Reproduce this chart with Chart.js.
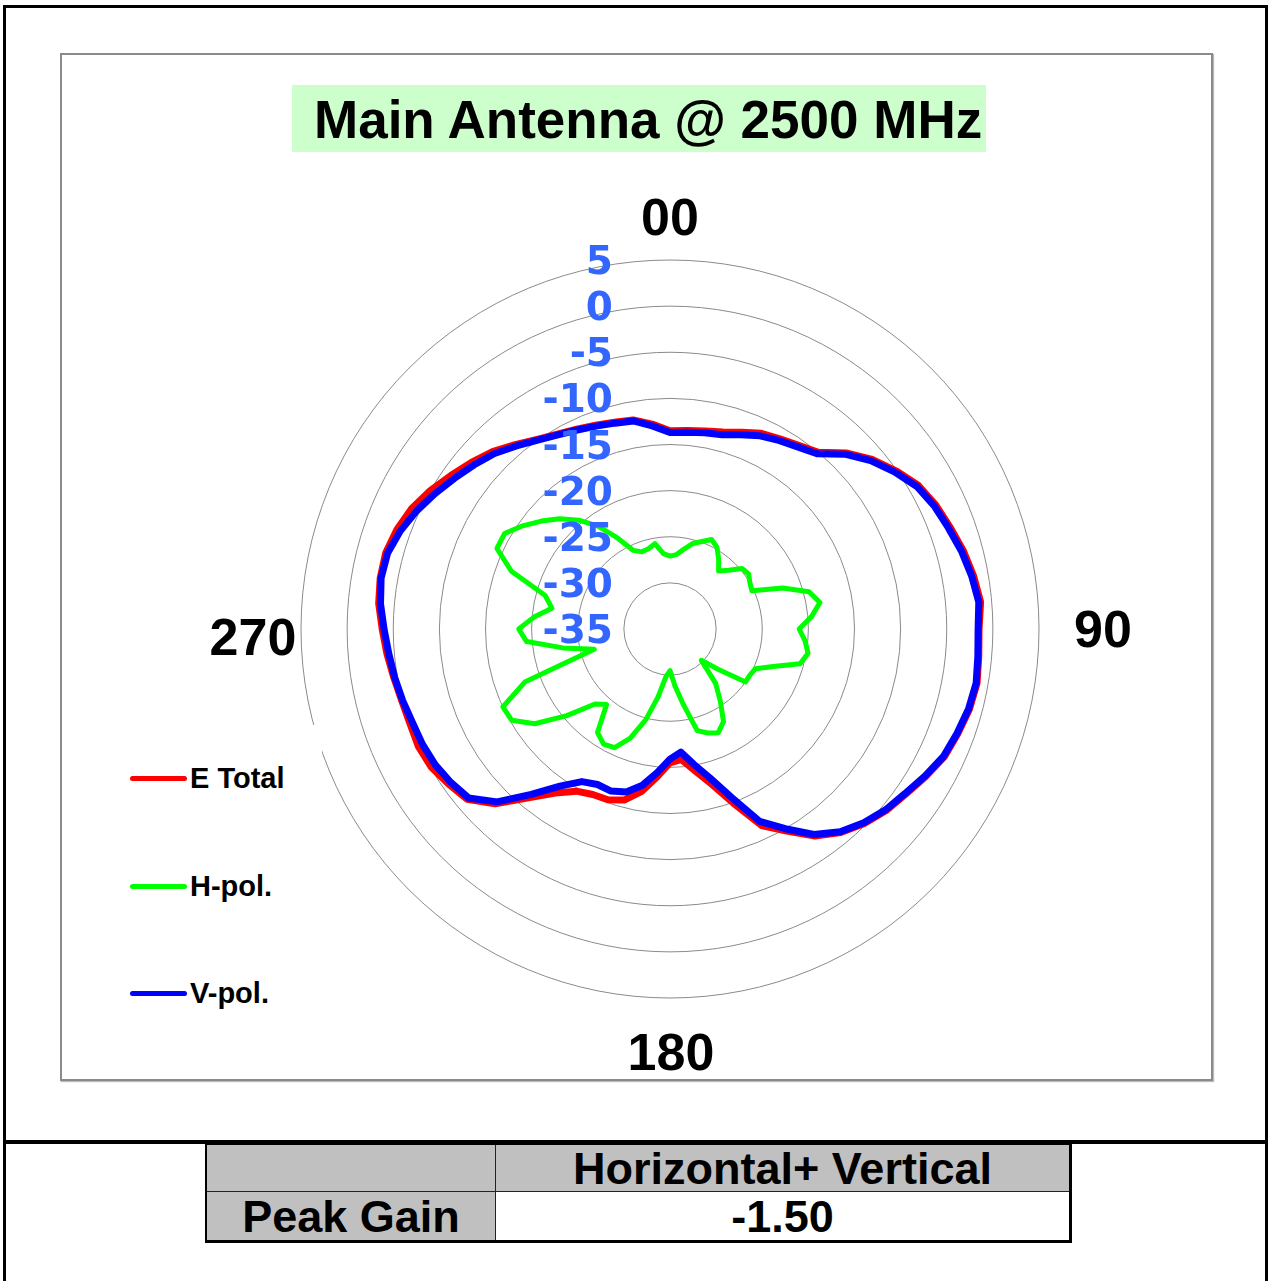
<!DOCTYPE html>
<html><head><meta charset="utf-8">
<script src="https://cdn.jsdelivr.net/npm/chart.js@4/dist/chart.umd.min.js"></script>
<style>
html,body{margin:0;padding:0;background:#fff;}
body{width:1269px;height:1281px;position:relative;overflow:hidden;font-family:"Liberation Sans",Arial,sans-serif;font-weight:bold;color:#000;}
.a{position:absolute;}
.frameTop{left:3px;top:5px;width:1259px;height:1132px;border:3px solid #000;border-bottom:4px solid #000;}
.frameBot{left:3px;top:1141px;width:1259px;height:150px;border-left:3px solid #000;border-right:3px solid #000;}
.plot{left:60px;top:53px;width:1149px;height:1024px;border:2px solid #8a8a8a;box-shadow:1px 1px 1px #bbb;}
.title{left:292px;top:85px;width:694px;height:67px;background:#ccffcc;}
.title span{position:absolute;left:22px;top:8px;font-size:53px;line-height:53px;white-space:nowrap;}
.ang{font-size:52px;line-height:52px;white-space:nowrap;transform:translateX(-50%);}
.legbox{left:120px;top:725px;width:202px;height:300px;background:#fff;}
.lline{left:130px;width:57px;height:5px;border-radius:3px;}
.ltxt{left:190px;font-size:29px;line-height:29px;white-space:nowrap;}
table{position:absolute;left:205px;top:1143px;border-collapse:collapse;border-right:3px solid #000;border-bottom:3px solid #000;border-left:2px solid #000;border-top:2px solid #000;}
td{border:1px solid #222;font-size:45px;line-height:45px;text-align:center;padding:0;font-weight:bold;}
</style></head><body>
<div class="a frameTop"></div>
<div class="a frameBot"></div>
<div class="a plot"></div>
<div class="a title"><span id="ttl"></span></div>
<canvas id="c" class="a" width="778" height="778" style="left:281px;top:240px;"></canvas>
<div class="a legbox"></div>
<div id="angles"></div>
<div id="legend"></div>
<table>
<tr><td style="width:288px;height:46px;background:#c0c0c0;"></td><td id="hdr" style="width:573px;height:46px;background:#c0c0c0;"></td></tr>
<tr><td id="rowlab" style="height:48px;background:#c0c0c0;"></td><td id="rowval" style="height:48px;background:#fff;"></td></tr>
</table>
<script>
// ---- data ----
const titleText = 'Main Antenna @ 2500 MHz';
const angleLabels = ['0','5','10','15','20','25','30','35','40','45','50','55','60','65','70','75','80','85','90','95','100','105','110','115','120','125','130','135','140','145','150','155','160','165','170','175','180','185','190','195','200','205','210','215','220','225','230','235','240','245','250','255','260','265','270','275','280','285','290','295','300','305','310','315','320','325','330','335','340','345','350','355'];
const eTotal = [-13.5,-13.4,-13.2,-12.9,-12.3,-11.6,-11.2,-10.7,-10.0,-8.0,
  -6.4,-5.1,-3.9,-3.2,-2.7,-2.1,-1.6,-1.2,-1.5,-1.4,
  -1.2,-1.4,-1.8,-2.2,-3.0,-3.8,-4.4,-5.2,-6.2,-7.6,
  -9.7,-11.5,-14.9,-17.6,-19.4,-20.8,-20.5,-18.9,-17.1,-15.8,
  -15.3,-15.2,-14.7,-13.3,-11.1,-8.2,-6.3,-5.7,-5.1,-4.9,
  -5.0,-4.9,-4.6,-4.2,-3.8,-3.3,-3.1,-3.1,-3.5,-4.1,
  -5.0,-6.0,-6.9,-7.8,-8.9,-9.9,-10.6,-11.1,-11.5,-11.8,
  -12.0,-12.7];
const hPol = [-27.1,-26.9,-26.2,-25.4,-24.9,-24.3,-24.8,-25.8,-26.8,-26.0,
  -24.8,-24.6,-25.0,-25.2,-22.0,-19.4,-18.5,-19.6,-21.0,-20.3,
  -19.8,-20.4,-23.1,-24.8,-25.0,-25.0,-28.2,-30.2,-27.3,-25.5,
  -23.4,-22.6,-23.0,-23.6,-26.7,-28.8,-30.5,-29.8,-27.5,-24.8,
  -22.4,-20.8,-20.6,-21.3,-24.3,-23.5,-20.4,-17.1,-15.2,-15.0,
  -18.3,-26.5,-23.2,-19.4,-18.6,-20.2,-22.0,-21.0,-16.7,-14.3,
  -14.3,-15.5,-16.8,-18.1,-19.6,-21.4,-23.6,-25.6,-26.1,-26.0,
  -25.6,-26.8];
const vPol = [-13.7,-13.6,-13.4,-13.2,-12.6,-11.9,-11.4,-10.9,-10.2,-8.2,
  -6.6,-5.3,-4.1,-3.4,-2.9,-2.3,-1.8,-1.4,-1.6,-1.5,
  -1.3,-1.5,-1.9,-2.3,-3.1,-3.9,-4.5,-5.3,-6.3,-7.8,
  -10.0,-12.0,-15.6,-18.3,-20.1,-21.6,-20.9,-19.4,-17.8,-16.7,
  -16.3,-16.4,-15.9,-14.2,-11.6,-8.5,-6.5,-6.0,-5.6,-5.4,
  -5.3,-5.0,-4.7,-4.4,-4.0,-3.5,-3.2,-3.3,-3.9,-4.7,
  -5.6,-6.5,-7.3,-8.1,-9.1,-10.0,-10.7,-11.2,-11.6,-11.9,
  -12.1,-12.9];
const radialTicks = [5,0,-5,-10,-15,-20,-25,-30,-35];
const compassLabels = ['00','90','180','270'];
const seriesNames = ['E Total','H-pol.','V-pol.'];
const seriesColors = ['#ff0000','#00ff00','#0000ff'];
const tableHeader = 'Horizontal+ Vertical';
const tableRowLabel = 'Peak Gain';
const tableRowValue = '-1.50';

// ---- static text ----
document.getElementById('ttl').textContent = titleText;
document.getElementById('hdr').textContent = tableHeader;
document.getElementById('rowlab').textContent = tableRowLabel;
document.getElementById('rowval').textContent = tableRowValue;

const angPos = [[670,191],[1103,603],[671,1026],[253,611]];
const angBox = document.getElementById('angles');
compassLabels.forEach((t,i)=>{
  const d=document.createElement('div'); d.className='a ang'; d.textContent=t;
  d.style.left=angPos[i][0]+'px'; d.style.top=angPos[i][1]+'px'; angBox.appendChild(d);
});
const legY=[778,886,993];
const legBox=document.getElementById('legend');
seriesNames.forEach((n,i)=>{
  const l=document.createElement('div'); l.className='a lline'; l.style.background=seriesColors[i];
  l.style.top=(legY[i]-2)+'px'; legBox.appendChild(l);
  const t=document.createElement('div'); t.className='a ltxt'; t.textContent=n;
  t.style.top=(legY[i]-14)+'px'; legBox.appendChild(t);
});

// ---- chart ----
const tickLabelPlugin = {
  id:'tickLabels',
  afterDatasetsDraw(chart){
    const s=chart.scales.r, ctx=chart.ctx;
    ctx.save();
    ctx.font='bold 39px "DejaVu Sans"';
    ctx.fillStyle='#3366ff';
    ctx.textAlign='right'; ctx.textBaseline='alphabetic';
    radialTicks.forEach(v=>{
      const d=s.getDistanceFromCenterForValue(v);
      ctx.fillText(String(v), s.xCenter-57, s.yCenter-d+14);
    });
    ctx.restore();
  }
};
new Chart(document.getElementById('c'),{
  type:'radar',
  data:{labels:angleLabels,datasets:[
    {label:seriesNames[0],data:eTotal,borderColor:seriesColors[0],backgroundColor:'transparent',borderWidth:7,order:2},
    {label:seriesNames[1],data:hPol,borderColor:seriesColors[1],backgroundColor:'transparent',borderWidth:5,order:1},
    {label:seriesNames[2],data:vPol,borderColor:seriesColors[2],backgroundColor:'transparent',borderWidth:7,order:0}
  ]},
  options:{
    responsive:false,animation:false,
    layout:{padding:20},
    elements:{point:{radius:0,hoverRadius:0},line:{tension:0,fill:false,borderJoinStyle:'round',borderCapStyle:'round'}},
    plugins:{legend:{display:false},tooltip:{enabled:false}},
    scales:{r:{min:-35,max:5,
      ticks:{display:false,stepSize:5},
      grid:{circular:true,color:'#8a8a8a',lineWidth:1},
      angleLines:{display:false},
      pointLabels:{display:false}}}
  },
  plugins:[tickLabelPlugin]
});
</script>
</body></html>
